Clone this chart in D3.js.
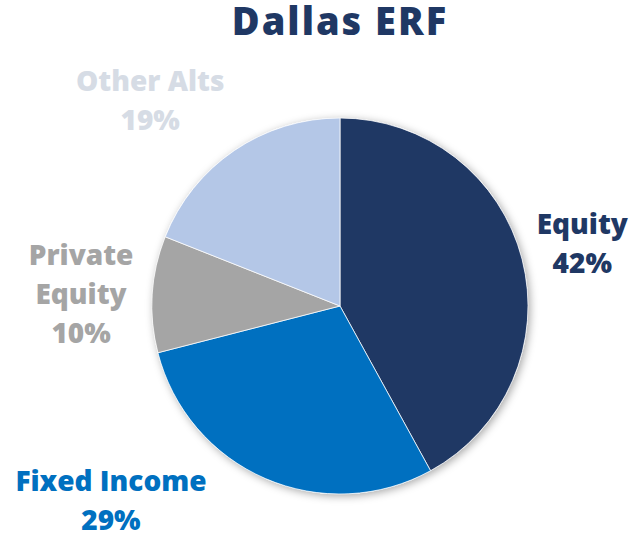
<!DOCTYPE html>
<html lang="en">
<head>
<meta charset="utf-8">
<title>Dallas ERF</title>
<script src="https://cdn.jsdelivr.net/npm/d3@7"></script>
<style>
  body { margin: 0; background: #fff; }
  svg text { font-family: "Open Sans", "DejaVu Sans", sans-serif; font-weight: 800; }
</style>
</head>
<body>
<svg id="chart" width="634" height="535"></svg>
<script>
// data
var categories = ["Equity", "Fixed Income", "Private Equity", "Other Alts"];
var values = [42, 29, 10, 19];
var sliceColors = ["#1F3864", "#0070C0", "#A5A5A5", "#B4C7E7"];
var labelColors = ["#1F3864", "#0070C0", "#A5A5A5", "#D6DCE5"];
// label lines, one array per category
var labelLines = [["Equity", "42%"], ["Fixed Income", "29%"], ["Private", "Equity", "10%"], ["Other Alts", "19%"]];

var svg = d3.select("#chart");
var cx = 340, cy = 306, r = 188;

svg.append("text")
  .attr("x", 340).attr("y", 35)
  .attr("text-anchor", "middle")
  .attr("font-size", 38)
  .attr("letter-spacing", 2)
  .attr("fill", "#1F3864")
  .text("Dallas ERF");

var defs = svg.append("defs");
var f = defs.append("filter").attr("id", "shadow")
  .attr("x", "-20%").attr("y", "-20%").attr("width", "140%").attr("height", "140%");
f.append("feDropShadow").attr("dx", 2).attr("dy", 2).attr("stdDeviation", 4)
  .attr("flood-color", "#000").attr("flood-opacity", 0.35);

var pie = d3.pie().sort(null).value(function(d) { return d; });
var arc = d3.arc().innerRadius(0).outerRadius(r);
var arcs = pie(values);

var g = svg.append("g").attr("transform", "translate(" + cx + "," + cy + ")");
g.append("circle").attr("r", r).attr("fill", "#fff").attr("filter", "url(#shadow)");
g.selectAll("path.slice")
  .data(arcs)
  .enter().append("path")
  .attr("class", "slice")
  .attr("d", arc)
  .attr("fill", function(d, i) { return sliceColors[i]; })
  .attr("stroke", "#fff")
  .attr("stroke-width", 0.75);

// labels sit outside the pie, nudged to where the original put them
var labelArc = d3.arc().innerRadius(r * 1.38).outerRadius(r * 1.38);
var labelNudge = [[-9, -7], [-126, -53], [0, -25], [-44, 0]];
var lineGap = 39;

g.selectAll("text.lbl")
  .data(arcs)
  .enter().append("text")
  .attr("class", "lbl")
  .attr("text-anchor", "middle")
  .attr("font-size", 28)
  .attr("fill", function(d, i) { return labelColors[i]; })
  .each(function(d, i) {
    var c = labelArc.centroid(d);
    var x = c[0] + labelNudge[i][0];
    var y = c[1] + labelNudge[i][1];
    var t = d3.select(this);
    labelLines[i].forEach(function(line, k) {
      t.append("tspan").attr("x", x).attr("y", y + k * lineGap).text(line);
    });
  });
</script>
</body>
</html>
